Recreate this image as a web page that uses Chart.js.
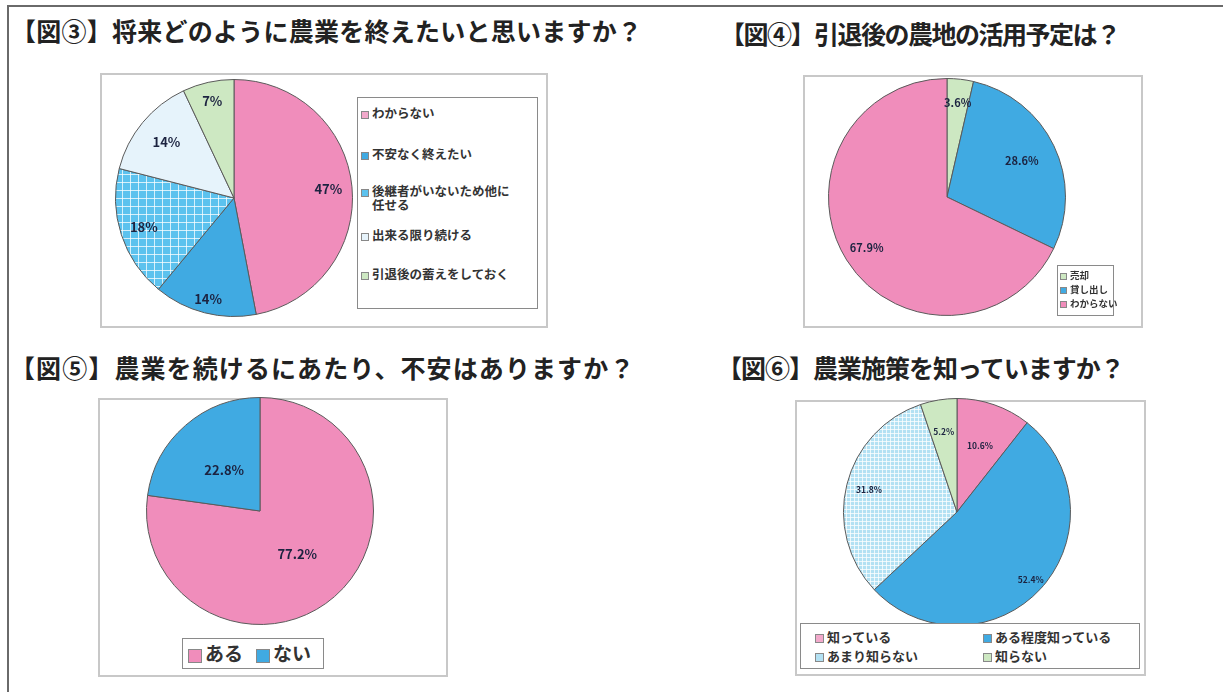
<!DOCTYPE html>
<html lang="ja">
<head>
<meta charset="utf-8">
<script src="https://cdn.jsdelivr.net/npm/chart.js@4.4.1/dist/chart.umd.min.js"></script>
<style>
  body { margin: 0; background: #fff; font-family: "Noto Sans CJK JP", sans-serif; }
  #page { position: relative; width: 1223px; height: 692px; overflow: hidden; }
  .frame { position: absolute; left: 7px; top: 5px; width: 1230px; height: 700px;
           border-top: 2px solid #6a6a6a; border-left: 2px solid #6a6a6a; }
  .title { position: absolute; font-size: 25px; font-weight: bold; color: #222; white-space: nowrap; }
  .box { position: absolute; border: 2px solid #c8c8c8; box-sizing: border-box; }
  canvas { position: absolute; }
  .legend { position: absolute; border: 1px solid #8a8a8a; box-sizing: border-box; background: #fff;
            font-weight: bold; color: #333; }
  .legend .item { position: absolute; white-space: nowrap; }
  .legend .sw { display: inline-block; border: 1px solid #888; box-sizing: border-box; vertical-align: middle; margin-right: 3px; }
</style>
</head>
<body>
<div id="page">
  <div class="frame"></div>
  <div class="title" style="left:11px;top:12px;letter-spacing:0.25px;">【図③】将来どのように農業を終えたいと思いますか？</div>
  <div class="title" style="left:720px;top:15px;letter-spacing:-1.5px;">【図④】引退後の農地の活用予定は？</div>
  <div class="title" style="left:10px;top:349px;letter-spacing:1.1px;">【図⑤】農業を続けるにあたり、不安はありますか？</div>
  <div class="title" style="left:717px;top:349px;letter-spacing:-1px;">【図⑥】農業施策を知っていますか？</div>

  <div class="box" style="left:100px;top:73px;width:448px;height:255px;"></div>
  <div class="box" style="left:803px;top:75px;width:340px;height:253px;"></div>
  <div class="box" style="left:98px;top:398px;width:350px;height:279px;"></div>
  <div class="box" style="left:795px;top:400px;width:351px;height:276px;"></div>

  <canvas id="fig3" width="240" height="240" style="left:114px;top:78px;"></canvas>
  <canvas id="fig4" width="240" height="240" style="left:827px;top:77px;"></canvas>
  <canvas id="fig5" width="230" height="230" style="left:145px;top:396px;"></canvas>
  <canvas id="fig6" width="230" height="230" style="left:842px;top:397px;"></canvas>

  <div class="legend" id="leg3" style="left:357px;top:97px;width:181px;height:212px;font-size:12.5px;"></div>
  <div class="legend" id="leg4" style="left:1057px;top:265px;width:57px;height:51px;font-size:9.5px;"></div>
  <div class="legend" id="leg5" style="left:182px;top:638px;width:142px;height:31px;font-size:19px;"></div>
  <div class="legend" id="leg6" style="left:800px;top:623px;width:340px;height:46px;font-size:13px;"></div>
</div>
<script>
// data
const fig3Labels = ['わからない', '不安なく終えたい', '後継者がいないため他に任せる', '出来る限り続ける', '引退後の蓄えをしておく'];
const fig3Values = [47, 14, 18, 14, 7];
const fig4Labels = ['売却', '貸し出し', 'わからない'];
const fig4Values = [3.6, 28.6, 67.9];
const fig5Labels = ['ある', 'ない'];
const fig5Values = [77.2, 22.8];
const fig6Labels = ['知っている', 'ある程度知っている', 'あまり知らない', '知らない'];
const fig6Values = [10.6, 52.4, 31.8, 5.2];

const PINK = '#f08dbb', BLUE = '#40aae2', PALEBLUE = '#e6f3fb', GREEN = '#cde8c2';

function gridPattern(base, step) {
  const c = document.createElement('canvas');
  c.width = step; c.height = step;
  const g = c.getContext('2d');
  g.fillStyle = base; g.fillRect(0, 0, step, step);
  g.fillStyle = 'rgba(255,255,255,0.75)';
  g.fillRect(0, 0, step, 1); g.fillRect(0, 0, 1, step);
  return g.createPattern(c, 'repeat');
}

// draws value labels on slices
const sliceLabels = {
  id: 'sliceLabels',
  afterDatasetsDraw(chart, args, opts) {
    const ctx = chart.ctx;
    const vals = chart.data.datasets[0].data;
    ctx.save();
    ctx.font = 'bold ' + opts.size + 'px "Noto Sans CJK JP", sans-serif';
    ctx.fillStyle = '#1c2340';
    ctx.textAlign = 'center';
    ctx.textBaseline = 'middle';
    chart.getDatasetMeta(0).data.forEach((arc, i) => {
      const mid = (arc.startAngle + arc.endAngle) / 2;
      const r = arc.outerRadius * opts.radius[i];
      const txt = opts.decimals ? vals[i].toFixed(1) + '%' : vals[i] + '%';
      ctx.fillText(txt, arc.x + Math.cos(mid) * r, arc.y + Math.sin(mid) * r);
    });
    ctx.restore();
  }
};

function makePie(id, labels, values, colors, labelOpts) {
  return new Chart(document.getElementById(id).getContext('2d'), {
    type: 'pie',
    plugins: [sliceLabels],
    data: {
      labels: labels,
      datasets: [{
        data: values,
        backgroundColor: colors,
        borderColor: '#5a5a5a',
        borderWidth: 1
      }]
    },
    options: {
      responsive: false,
      animation: false,
      layout: { padding: 1 },
      plugins: {
        legend: { display: false },
        tooltip: { enabled: false },
        sliceLabels: labelOpts
      }
    }
  });
}

function makeLegend(id, labels, colors, spots, sw) {
  const box = document.getElementById(id);
  labels.forEach((lab, i) => {
    const d = document.createElement('div');
    d.className = 'item';
    d.style.left = spots[i][0] + 'px';
    d.style.top = spots[i][1] + 'px';
    if (spots[i][2]) {
      // wrapped item: second line lines up with the text, not the swatch
      d.style.whiteSpace = 'normal';
      d.style.width = spots[i][2] + 'px';
      d.style.lineHeight = '14px';
      d.style.paddingLeft = (sw + 3) + 'px';
      d.style.textIndent = -(sw + 3) + 'px';
    }
    const s = document.createElement('span');
    s.className = 'sw';
    s.style.width = sw + 'px'; s.style.height = sw + 'px';
    s.style.background = colors[i];
    d.appendChild(s);
    d.appendChild(document.createTextNode(lab));
    box.appendChild(d);
  });
}

const fig3Colors = [PINK, BLUE, gridPattern('#5cc2ee', 8), PALEBLUE, GREEN];
const fig4Colors = [GREEN, BLUE, PINK];
const fig5Colors = [PINK, BLUE];
const fig6Colors = [PINK, BLUE, gridPattern('#b3e1f3', 4), GREEN];

makePie('fig3', fig3Labels, fig3Values, fig3Colors, { size: 13, decimals: false, radius: [0.8, 0.88, 0.8, 0.74, 0.84] });
makePie('fig4', fig4Labels, fig4Values, fig4Colors, { size: 11, decimals: true, radius: [0.8, 0.7, 0.8] });
makePie('fig5', fig5Labels, fig5Values, fig5Colors, { size: 13, decimals: true, radius: [0.5, 0.48] });
makePie('fig6', fig6Labels, fig6Values, fig6Colors, { size: 8.5, decimals: true, radius: [0.62, 0.88, 0.8, 0.72] });

makeLegend('leg3', fig3Labels, ['#f2a9cb', BLUE, '#5cc2ee', PALEBLUE, GREEN],
  [[3, 5], [3, 46], [3, 86, 146], [3, 127], [3, 166]], 8);
makeLegend('leg4', fig4Labels, fig4Colors, [[2, 2], [2, 16], [2, 30]], 7);
makeLegend('leg5', fig5Labels, fig5Colors, [[5, 0], [73, 0]], 14);
makeLegend('leg6', fig6Labels, ['#f2a9cb', BLUE, '#b3e1f3', GREEN], [[14, 3], [182, 3], [14, 22], [182, 22]], 9);
</script>
</body>
</html>
